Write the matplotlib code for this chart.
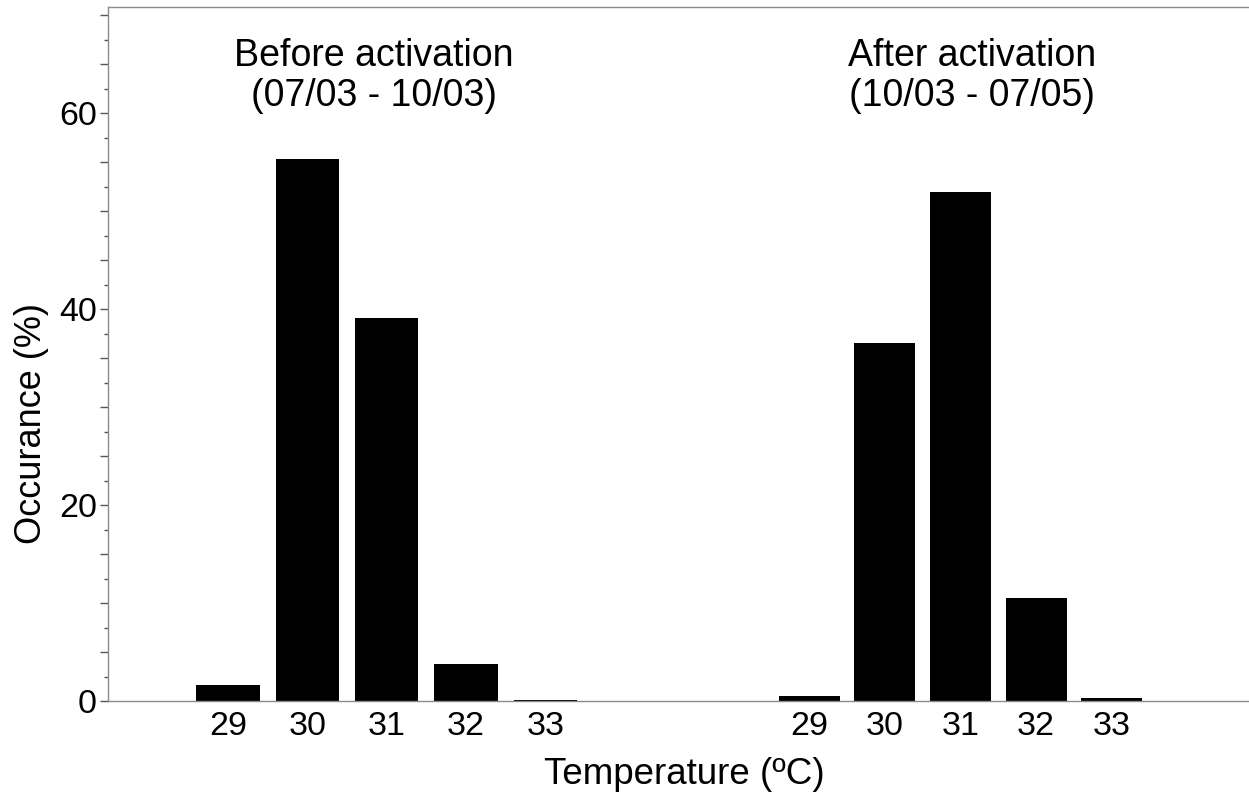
import matplotlib
matplotlib.use("Agg")
import matplotlib.pyplot as plt
from matplotlib.ticker import MultipleLocator, FuncFormatter
import numpy as np

plt.rcParams['font.family'] = ['Liberation Sans', 'DejaVu Sans']

temps = ["29", "30", "31", "32", "33"]
before_vals = [1.6, 55.3, 39.1, 3.8, 0.1]
after_vals = [0.5, 36.5, 52.0, 10.5, 0.3]
before_title = "Before activation\n(07/03 - 10/03)"
after_title = "After activation\n(10/03 - 07/05)"
xlabel = "Temperature (ºC)"
ylabel = "Occurance (%)"

W, H = 1249, 799
fig = plt.figure(figsize=(W / 100, H / 100), dpi=100)
ax = fig.add_axes([108 / W, 1 - 701 / H, 1 - 108 / W, (701 - 6.5) / H])

gray = "#8a8a8a"
pos_before = np.arange(len(temps)) * 1.0
pos_after = 7.32 + np.arange(len(temps)) * 0.953

ax.bar(pos_before, before_vals, width=0.8, color="black", edgecolor="none")
ax.bar(pos_after, after_vals, width=0.77, color="black", edgecolor="none")

ax.set_xlim(-1.51, 12.86)
ax.set_ylim(0, 70.9)

ax.set_xticks(list(pos_before) + list(pos_after))
ax.set_xticklabels(temps + temps, fontsize=24.5)
ax.tick_params(axis="x", length=0, pad=7.5)

ax.yaxis.set_major_locator(MultipleLocator(5))
ax.yaxis.set_minor_locator(MultipleLocator(2.5))
ax.yaxis.set_major_formatter(FuncFormatter(lambda v, p: f"{int(round(v))}" if round(v) % 20 == 0 else ""))
ax.tick_params(axis="y", which="major", length=6, width=1.0, color="#555555", labelsize=24.5, pad=2)
ax.tick_params(axis="y", which="minor", length=3, width=1.0, color="#555555")

for s in ["left", "bottom", "top"]:
    ax.spines[s].set_color(gray)
    ax.spines[s].set_linewidth(1.0)
ax.spines["right"].set_visible(False)

fig.text(374 / W, 1 - 76 / H, before_title, ha="center", va="center", fontsize=27, linespacing=1.15)
fig.text(972 / W, 1 - 76 / H, after_title, ha="center", va="center", fontsize=27, linespacing=1.15)

fig.text(684 / W, 1 - 774 / H, xlabel, ha="center", va="center", fontsize=26.5)
fig.text(32 / W, 1 - 424 / H, ylabel, ha="center", va="center", fontsize=26, rotation=90)

fig.savefig("out.png", dpi=100, facecolor="white")
